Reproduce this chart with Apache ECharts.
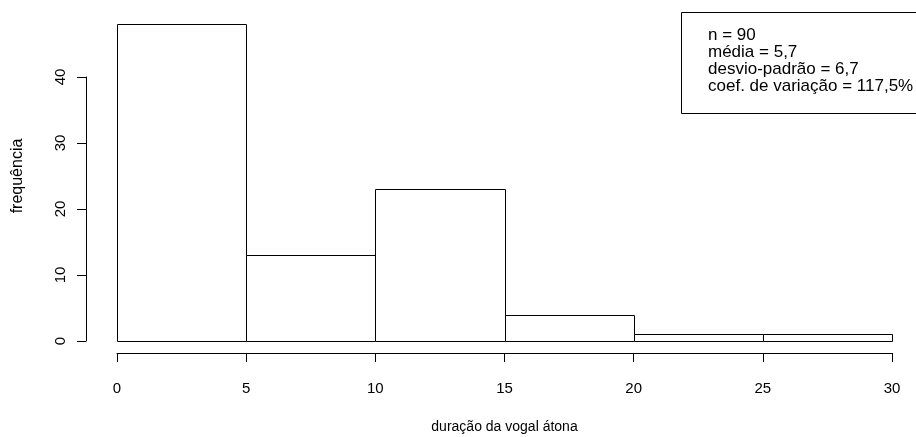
<!DOCTYPE html>
<html>
<head>
<meta charset="utf-8">
<script src="https://cdn.jsdelivr.net/npm/echarts@6/dist/echarts.min.js"></script>
<style>
  html, body { margin: 0; padding: 0; background: #fff; }
  #chart { width: 916px; height: 437px; }
</style>
</head>
<body>
<div id="chart"></div>
<script>
// histograma - duração da vogal átona

const binStart = [0, 5, 10, 15, 20, 25];
const binEnd = [5, 10, 15, 20, 25, 30];
const counts = [48, 13, 23, 4, 1, 1];
const xTicks = [0, 5, 10, 15, 20, 25, 30];
const yTicks = [0, 10, 20, 30, 40];
const statsLines = ['n = 90', 'média = 5,7', 'desvio-padrão = 6,7', 'coef. de variação = 117,5%'];

const FONT = 'Liberation Sans, Arial, sans-serif';

let chart = echarts.init(document.getElementById('chart'), null, { renderer: 'canvas' });

let barData = binStart.map((s, i) => [s, binEnd[i], counts[i]]);

let option = {
    animation: false,
    backgroundColor: '#fff',
    textStyle: { fontFamily: FONT },
    grid: [
        // area do gráfico
        { left: 117, right: 24, top: 11, bottom: 96 },
        // eixo y (0 a 40)
        { left: 86, width: 1, top: 77, bottom: 96 },
        // eixo x
        { left: 117, right: 24, top: 343, bottom: 84 }
    ],
    xAxis: [
        { gridIndex: 0, type: 'value', min: 0, max: 30, show: false },
        { gridIndex: 1, type: 'value', min: 0, max: 1, show: false },
        {
            gridIndex: 2, type: 'value', min: 0, max: 30, interval: 5,
            position: 'bottom',
            axisLine: { show: true, lineStyle: { color: '#000', width: 1 } },
            axisTick: { show: true, length: 9, lineStyle: { color: '#000' } },
            axisLabel: {
                color: '#000', fontSize: 15, margin: 28, fontFamily: FONT,
                formatter: v => xTicks.includes(v) ? String(v) : ''
            },
            splitLine: { show: false },
            name: 'duração da vogal átona',
            nameLocation: 'middle',
            nameGap: 67,
            nameTextStyle: { color: '#000', fontSize: 14, fontFamily: FONT }
        }
    ],
    yAxis: [
        {
            gridIndex: 0, type: 'value', min: 0, max: 50,
            axisLine: { show: false }, axisTick: { show: false },
            axisLabel: { show: false }, splitLine: { show: false },
            name: 'frequência',
            nameLocation: 'middle',
            nameGap: 91,
            nameRotate: 90,
            nameTextStyle: { color: '#000', fontSize: 16, fontFamily: FONT }
        },
        {
            gridIndex: 1, type: 'value', min: 0, max: 40, interval: 10,
            position: 'left',
            axisLine: { show: true, lineStyle: { color: '#000', width: 1 } },
            axisTick: { show: true, length: 9, lineStyle: { color: '#000' } },
            axisLabel: {
                color: '#000', fontSize: 15, margin: 18, rotate: 90, fontFamily: FONT,
                formatter: v => yTicks.includes(v) ? String(v) : ''
            },
            splitLine: { show: false }
        },
        { gridIndex: 2, type: 'value', min: 0, max: 1, show: false }
    ],
    series: [
        {
            type: 'custom',
            xAxisIndex: 0,
            yAxisIndex: 0,
            data: barData,
            encode: { x: [0, 1], y: 2 },
            renderItem: function (params, api) {
                let p0 = api.coord([api.value(0), 0]);
                let p1 = api.coord([api.value(1), api.value(2)]);
                return {
                    type: 'rect',
                    shape: {
                        x: Math.round(p0[0]) + 0.5,
                        y: Math.round(p1[1]) + 0.5,
                        width: Math.round(p1[0]) - Math.round(p0[0]),
                        height: Math.round(p0[1]) - Math.round(p1[1])
                    },
                    style: { fill: '#fff', stroke: '#000', lineWidth: 1 }
                };
            }
        }
    ],
    graphic: [
        {
            type: 'rect',
            shape: { x: 681.5, y: 12.5, width: 260, height: 101 },
            style: { fill: '#fff', stroke: '#000', lineWidth: 1 },
            z: 10
        },
        {
            type: 'text',
            left: 708,
            top: 27,
            z: 11,
            style: {
                text: statsLines.join('\n'),
                font: '17px ' + FONT,
                fill: '#000',
                lineHeight: 17
            }
        }
    ]
};

chart.setOption(option);
</script>
</body>
</html>
